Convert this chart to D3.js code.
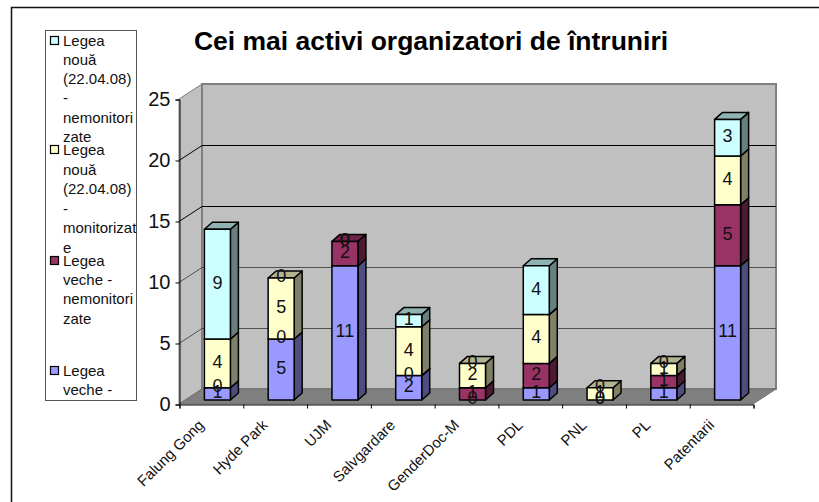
<!DOCTYPE html>
<html lang="en">
<head>
    <meta charset="UTF-8">
    <title>Cei mai activi organizatori de întruniri</title>
    <script src="https://d3js.org/d3.v7.min.js"></script>
    <style>
        body { margin: 0; background: #fff; }
        svg { display: block; font-family: "Liberation Sans", Arial, sans-serif; }
    </style>
</head>
<body>
    <svg id="chart"></svg>
    <script>
        const categories = ["Falung Gong", "Hyde Park", "UJM", "Salvgardare", "GenderDoc-M", "PDL", "PNL", "PL", "Patentarii"];
        const vecheMonitorizate = [1, 5, 11, 2, 0, 1, 0, 1, 11];
        const vecheNemonitorizate = [0, 0, 2, 0, 1, 2, 0, 1, 5];
        const nouaMonitorizate = [4, 5, 0, 4, 2, 4, 1, 1, 4];
        const nouaNemonitorizate = [9, 0, 0, 1, 0, 4, 0, 0, 3];
        const seriesNames = ["vecheMon", "vecheNem", "nouaMon", "nouaNem"];
        const seriesValues = [vecheMonitorizate, vecheNemonitorizate, nouaMonitorizate, nouaNemonitorizate];
        const seriesColors = ["#9999ff", "#993366", "#ffffcc", "#ccffff"];
        const yTicks = [0, 5, 10, 15, 20, 25];
        const title = "Cei mai activi organizatori de întruniri";

        // legend lines, wrapped and cut off as in the picture
        const legendLines = [
            { t: "Legea", y: 41, key: 3 }, { t: "nouă", y: 60 }, { t: "(22.04.08)", y: 79 }, { t: "-", y: 98 },
            { t: "nemonitori", y: 118 }, { t: "zate", y: 137 },
            { t: "Legea", y: 150, key: 2 }, { t: "nouă", y: 170 }, { t: "(22.04.08)", y: 189 }, { t: "-", y: 209 },
            { t: "monitorizat", y: 228 }, { t: "e", y: 248 },
            { t: "Legea", y: 261, key: 1 }, { t: "veche -", y: 280 }, { t: "nemonitori", y: 299 }, { t: "zate", y: 319 },
            { t: "Legea", y: 371, key: 0 }, { t: "veche -", y: 390 }
        ];

        const width = 819, height = 502;
        const svg = d3.select("#chart").attr("width", width).attr("height", height);

        // page frame, only top and left are visible
        svg.append("path").attr("d", "M11.5,502V7.5H819").attr("fill", "none").attr("stroke", "#111").attr("stroke-width", 1.5);

        svg.append("text").attr("x", 431).attr("y", 50).attr("text-anchor", "middle")
            .attr("font-size", 26.5).attr("font-weight", "bold").text(title);

        const x0 = 179, x1 = 753, y0 = 404;
        const depthX = 23, depthY = 15;
        const x = d3.scaleBand().domain(categories).range([x0, x1]);
        const xEdges = d3.scaleLinear().domain([0, categories.length]).range([x0, x1]);
        const y = d3.scaleLinear().domain([0, 25]).range([y0, 99]);

        // walls and floor
        const walls = svg.append("g");
        walls.append("path")
            .attr("d", `M${x0},${y(25)}L${x0 + depthX},${y(25) - depthY}V${y0 - depthY}L${x0},${y0}Z`)
            .attr("fill", "#c0c0c0").attr("stroke", "#808080");
        walls.append("rect")
            .attr("x", x0 + depthX).attr("y", y(25) - depthY)
            .attr("width", x1 - x0).attr("height", y0 - y(25))
            .attr("fill", "#c0c0c0").attr("stroke", "#808080").attr("stroke-width", 2);
        walls.append("path")
            .attr("d", `M${x0},${y0}L${x0 + depthX},${y0 - depthY}H${x1 + depthX}L${x1},${y0}Z`)
            .attr("fill", "#808080").attr("stroke", "#707070");

        // gridlines on side and back wall
        yTicks.filter(d => d > 0 && d < 25).forEach(d => {
            const c = d > 10 ? "#000" : "#505050";
            walls.append("path")
                .attr("d", `M${x0},${y(d) + 0.5}L${x0 + depthX},${y(d) - depthY + 0.5}H${x1 + depthX}`)
                .attr("fill", "none").attr("stroke", c);
        });

        // axes
        const yAxis = svg.append("g").attr("transform", `translate(${x0 + 0.5},0.5)`)
            .call(d3.axisLeft(y).tickValues(yTicks).tickSize(4).tickPadding(5));
        yAxis.selectAll("text").attr("font-size", 20).attr("font-family", null).attr("fill", "#111");
        yAxis.select(".domain").attr("stroke", "#000");

        const xAxis = svg.append("g").attr("transform", `translate(0.5,${y0 + 0.5})`)
            .call(d3.axisBottom(xEdges).ticks(categories.length).tickSize(4).tickFormat(""));
        xAxis.select(".domain").attr("stroke", "#000");

        svg.append("g").selectAll("text").data(categories).enter().append("text")
            .attr("text-anchor", "end").attr("font-size", 15).attr("fill", "#111")
            .attr("transform", d => `translate(${x(d) + x.bandwidth() / 2 - 6},${y0 + 22}) rotate(-45)`)
            .text(d => d);

        // stacked 3d bars
        const barW = 26, barDX = 8, barDY = 7, shiftX = 6.5, shiftY = 4;
        const rows = categories.map((c, i) => {
            const row = { category: c };
            seriesNames.forEach((s, j) => { row[s] = seriesValues[j][i]; });
            return row;
        });
        const stacked = d3.stack().keys(seriesNames)(rows);

        const barsG = svg.append("g").attr("stroke", "#000").attr("stroke-width", 1.5).attr("stroke-linejoin", "round");
        const labelsG = svg.append("g").attr("font-size", 18).attr("fill", "#111").attr("text-anchor", "middle");

        categories.forEach((c, i) => {
            const left = x(c) + (x.bandwidth() - barW) / 2 + shiftX;
            stacked.forEach((layer, j) => {
                const lo = layer[i][0], hi = layer[i][1];
                const yLo = y(lo) - shiftY, yHi = y(hi) - shiftY;
                const col = d3.color(seriesColors[j]);
                if (hi > lo) {
                    barsG.append("path")
                        .attr("d", `M${left + barW},${yHi}l${barDX},${-barDY}V${yLo - barDY}l${-barDX},${barDY}Z`)
                        .attr("fill", d3.rgb(col.r * 0.5, col.g * 0.5, col.b * 0.5));
                    barsG.append("path")
                        .attr("d", `M${left},${yHi}l${barDX},${-barDY}h${barW}l${-barDX},${barDY}Z`)
                        .attr("fill", d3.rgb(col.r * 0.7, col.g * 0.7, col.b * 0.7));
                    barsG.append("rect").attr("x", left).attr("y", yHi)
                        .attr("width", barW).attr("height", yLo - yHi).attr("fill", seriesColors[j]);
                }
                labelsG.append("text").attr("x", left + barW / 2).attr("y", (yLo + yHi) / 2 - 2)
                    .attr("dy", "0.36em").text(seriesValues[j][i]);
            });
        });

        // legend
        const legend = svg.append("g");
        legend.append("rect").attr("x", 45.5).attr("y", 30.5).attr("width", 91).attr("height", 370)
            .attr("fill", "#fff").attr("stroke", "#555");
        legendLines.forEach(l => {
            legend.append("text").attr("x", 63).attr("y", l.y).attr("dy", "0.36em")
                .attr("font-size", 15).attr("fill", "#111").text(l.t);
            if (l.key !== undefined) {
                legend.append("rect").attr("x", 50.5).attr("y", l.y - 4.5).attr("width", 8).attr("height", 8)
                    .attr("fill", seriesColors[l.key]).attr("stroke", "#000").attr("stroke-width", 1.2);
            }
        });
    </script>
</body>
</html>
